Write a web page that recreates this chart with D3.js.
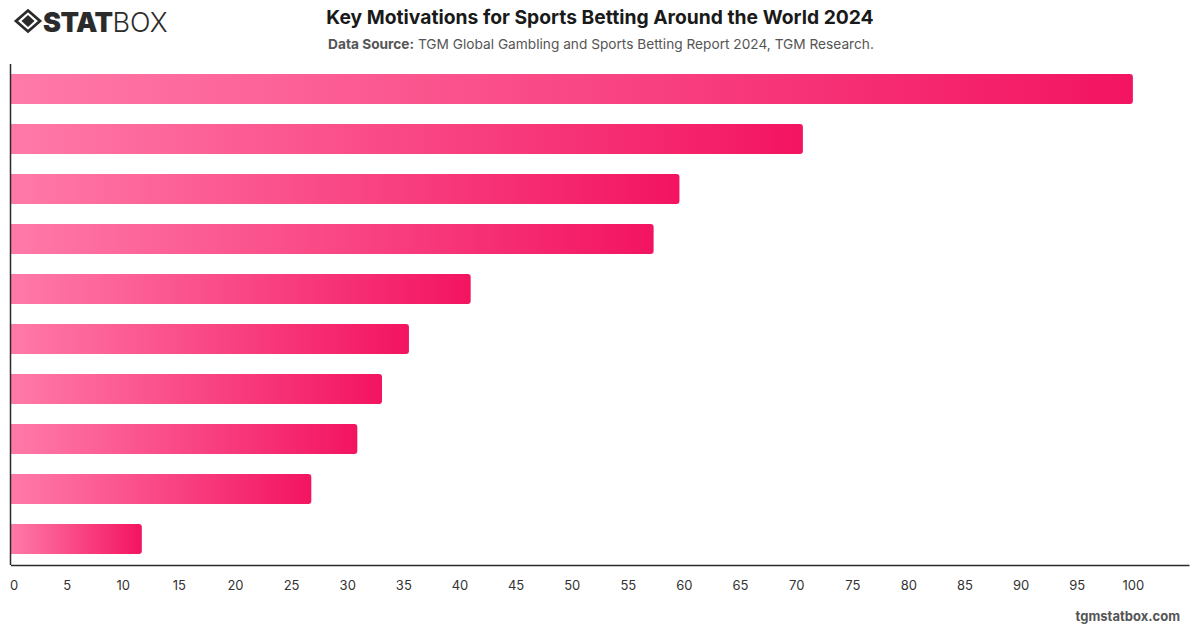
<!DOCTYPE html>
<html>
<head>
<meta charset="utf-8">
<script src="https://cdn.jsdelivr.net/npm/d3@7"></script>
<style>
  html, body { margin: 0; padding: 0; background: #fff; }
  svg { display: block; }
</style>
</head>
<body>
<svg id="chart" width="1200" height="628"></svg>
<script>
// ---- data ----
const categories = ["Motivation 1","Motivation 2","Motivation 3","Motivation 4","Motivation 5",
                    "Motivation 6","Motivation 7","Motivation 8","Motivation 9","Motivation 10"];
const values = [100, 70.6, 59.6, 57.3, 41.0, 35.5, 33.1, 30.9, 26.8, 11.7];
const tickValues = [0,5,10,15,20,25,30,35,40,45,50,55,60,65,70,75,80,85,90,95,100];
const titleText = "Key Motivations for Sports Betting Around the World 2024";
const sourceLabel = "Data Source:";
const sourceText = " TGM Global Gambling and Sports Betting Report 2024, TGM Research.";
const watermark = "tgmstatbox.com";

(function () {
const svg = d3.select("#chart");
const font = "Inter, 'Liberation Sans', Arial, sans-serif";

const plotLeft = 10.5, plotRight = 1189, plotTop = 64, plotBottom = 565;

const x = d3.scaleLinear().domain([0, 105]).range([plotLeft, plotRight]);
const y = d3.scaleBand().domain(categories).range([plotTop, plotBottom - 1])
  .paddingInner(0.4).paddingOuter(0.2);

// gradient
const defs = svg.append("defs");
const grad = defs.append("linearGradient").attr("id", "barGrad")
  .attr("x1", "0%").attr("x2", "100%").attr("y1", "0%").attr("y2", "0%");
grad.append("stop").attr("offset", "0%").attr("stop-color", "#ff7aa8");
grad.append("stop").attr("offset", "100%").attr("stop-color", "#f31461");

// bars with rounded right corners
const r = 3;
function barPath(x0, x1, y0, h) {
  const rr = Math.min(r, (x1 - x0) / 2);
  return `M${x0},${y0}H${x1 - rr}Q${x1},${y0} ${x1},${y0 + rr}V${y0 + h - rr}Q${x1},${y0 + h} ${x1 - rr},${y0 + h}H${x0}Z`;
}
svg.append("g").selectAll("path").data(values).join("path")
  .attr("d", (d, i) => barPath(x(0), x(d), y(categories[i]), y.bandwidth()))
  .attr("fill", "url(#barGrad)");

// axes
const xAxis = d3.axisBottom(x).tickValues(tickValues).tickSize(0).tickPadding(16)
  .tickFormat(d3.format("d"));
const gx = svg.append("g").attr("transform", `translate(0,${plotBottom})`).call(xAxis);
gx.select(".domain").attr("stroke", "#2b2b2b").attr("stroke-width", 1.5);
gx.selectAll("text").attr("font-family", font).attr("font-size", 13).attr("fill", "#333");
gx.selectAll(".tick").filter(d => d === 0).select("text").attr("dx", 3);

svg.append("line").attr("x1", plotLeft).attr("x2", plotLeft).attr("y1", plotTop).attr("y2", plotBottom)
  .attr("stroke", "#2b2b2b").attr("stroke-width", 1.5);

// title
svg.append("text").attr("x", 600).attr("y", 24).attr("text-anchor", "middle")
  .attr("font-family", font).attr("font-weight", 700).attr("font-size", 19.3)
  .attr("fill", "#1a1a1a").text(titleText);
const sub = svg.append("text").attr("x", 601).attr("y", 49).attr("text-anchor", "middle")
  .attr("font-family", font).attr("font-size", 13.7).attr("fill", "#555");
sub.append("tspan").attr("font-weight", 700).text(sourceLabel);
sub.append("tspan").text(sourceText);

// watermark
svg.append("text").attr("x", 1180).attr("y", 621).attr("text-anchor", "end")
  .attr("font-family", font).attr("font-weight", 700).attr("font-size", 13)
  .attr("fill", "#555").text(watermark);

// logo
const logo = svg.append("g").attr("transform", "translate(28,21)");
logo.append("path").attr("d", "M0,-10.5 L12,0 L0,10.5 L-12,0 Z")
  .attr("fill", "none").attr("stroke", "#2b2b2b").attr("stroke-width", 2.8);
logo.append("path").attr("d", "M0,-6 L6.5,0 L0,6 L-6.5,0 Z").attr("fill", "#2b2b2b");
const lt = svg.append("text").attr("x", 43).attr("y", 32)
  .attr("font-family", font).attr("font-size", 27).attr("fill", "#2b2b2b");
lt.append("tspan").attr("font-weight", 900).attr("letter-spacing", "-0.5").text("STAT");
lt.append("tspan").attr("font-weight", 300).text("BOX");
})();
</script>
</body>
</html>
